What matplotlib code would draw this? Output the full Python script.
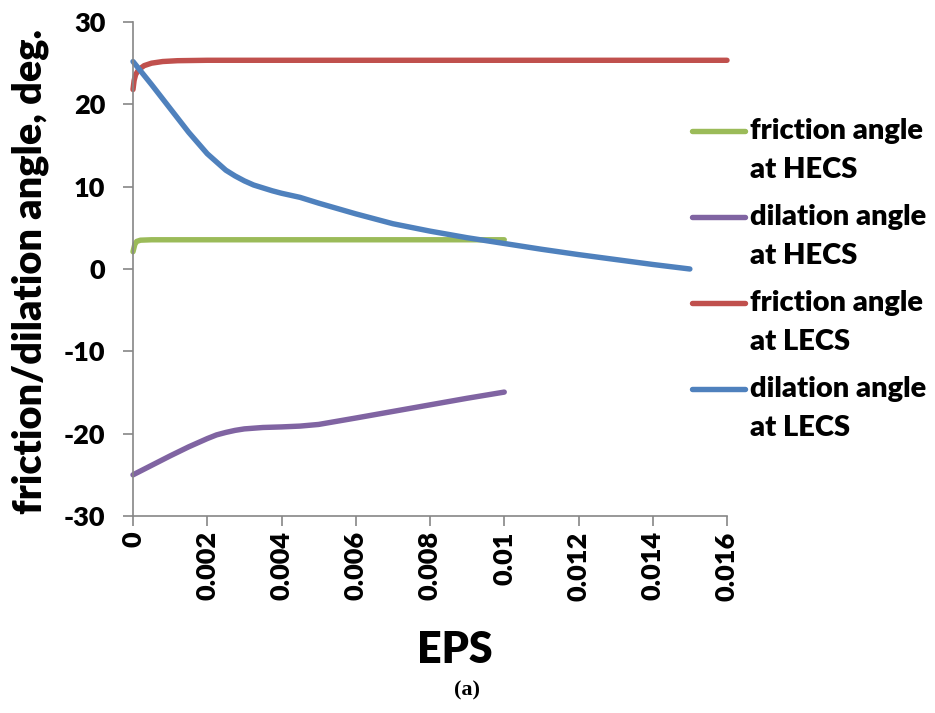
import matplotlib
matplotlib.use("Agg")
import matplotlib.pyplot as plt
from matplotlib.lines import Line2D

# ---- data ----
green_x = [0, 0.00005, 0.0001, 0.0002, 0.0005, 0.001, 0.01]
green_y = [2.1, 3.0, 3.35, 3.5, 3.55, 3.55, 3.55]

purple_x = [0, 0.001, 0.0015, 0.002, 0.00225, 0.0025, 0.00275, 0.003, 0.0035, 0.004,
            0.0045, 0.005, 0.006, 0.007, 0.008, 0.009, 0.01]
purple_y = [-25.0, -22.7, -21.6, -20.6, -20.15, -19.85, -19.6, -19.42, -19.25, -19.18,
            -19.08, -18.88, -18.1, -17.3, -16.5, -15.7, -14.95]

red_x = [0, 0.00003, 0.00007, 0.00015, 0.0003, 0.0005, 0.0008, 0.0012, 0.002, 0.016]
red_y = [21.8, 22.9, 23.6, 24.2, 24.7, 25.0, 25.2, 25.3, 25.35, 25.35]

blue_x = [0, 0.0005, 0.001, 0.0015, 0.002, 0.0025, 0.00275, 0.003, 0.00325, 0.0035,
          0.00375, 0.004, 0.0045, 0.005, 0.006, 0.007, 0.008, 0.009, 0.01, 0.011,
          0.012, 0.013, 0.014, 0.015]
blue_y = [25.2, 22.4, 19.5, 16.6, 14.0, 12.0, 11.3, 10.7, 10.2, 9.85,
          9.5, 9.2, 8.7, 8.0, 6.7, 5.5, 4.6, 3.8, 3.1, 2.4,
          1.75, 1.15, 0.55, 0.0]

series_labels = ["friction angle\nat HECS", "dilation angle\nat HECS",
                 "friction angle\nat LECS", "dilation angle\nat LECS"]
series_colors = ["#9BBB59", "#8064A2", "#C0504D", "#4F81BD"]

x_ticks = [0, 0.002, 0.004, 0.006, 0.008, 0.01, 0.012, 0.014, 0.016]
x_tick_labels = ["0", "0.002", "0.004", "0.006", "0.008", "0.01", "0.012", "0.014", "0.016"]
y_ticks = [-30, -20, -10, 0, 10, 20, 30]
y_tick_labels = ["-30", "-20", "-10", "0", "10", "20", "30"]

# ---- figure ----
W, H = 935, 713
fig = plt.figure(figsize=(W / 100, H / 100), dpi=100)
plt.rcParams['font.family'] = ['Lato', 'DejaVu Sans']
FW = 'heavy'

ax = fig.add_axes([133 / W, 1 - 516 / H, (727 - 133) / W, (516 - 22) / H])

xs = [green_x, purple_x, red_x, blue_x]
ys = [green_y, purple_y, red_y, blue_y]
for x, y, c in zip(xs, ys, series_colors):
    ax.plot(x, y, color=c, lw=3.9, solid_capstyle='round', solid_joinstyle='round',
            clip_on=False)

ax.set_xlim(0, 0.016)
ax.set_ylim(-30, 30)
ax.set_xticks(x_ticks)
ax.set_xticklabels(x_tick_labels, rotation=90, fontsize=19.5, fontweight=FW)
ax.set_yticks(y_ticks)
ax.set_yticklabels(y_tick_labels, fontsize=19.5, fontweight=FW)

gray = "#868686"
for s in ['top', 'right']:
    ax.spines[s].set_visible(False)
for s in ['left', 'bottom']:
    ax.spines[s].set_color(gray)
    ax.spines[s].set_linewidth(1.2)
ax.tick_params(axis='both', direction='out', color=gray, width=1.2, length=7)
ax.tick_params(axis='y', pad=13)
ax.tick_params(axis='x', pad=4)

ax.set_xlabel("EPS", fontsize=31, fontweight=FW)
ax.xaxis.label.set_va('center')
ax.xaxis.set_label_coords((455 - 133) / 594, (516 - 650) / 494)
ax.set_ylabel("friction/dilation angle, deg.", fontsize=28.5, fontweight=FW)
ax.yaxis.label.set_va('center')
ax.yaxis.set_label_coords((30 - 133) / 594, (516 - 272) / 494)

# ---- legend (manual, handle aligned to first text line) ----
leg_y0 = 131
leg_dy = 86
line_dy = 39
for i, (lab, c) in enumerate(zip(series_labels, series_colors)):
    yc = leg_y0 + i * leg_dy
    fig.add_artist(Line2D([692 / W, 745 / W], [1 - yc / H, 1 - yc / H],
                          transform=fig.transFigure, color=c, lw=3.9,
                          solid_capstyle='round'))
    for j, part in enumerate(lab.split("\n")):
        fig.text(750 / W, 1 - (yc + j * line_dy) / H, part, fontsize=21,
                 fontweight=FW, va='center', ha='left')

fig.text(467 / W, 1 - 690 / H, "(a)", fontsize=16, fontweight='bold',
         family=['Liberation Serif'], ha='center', va='center')

fig.savefig("out.png", dpi=100)
